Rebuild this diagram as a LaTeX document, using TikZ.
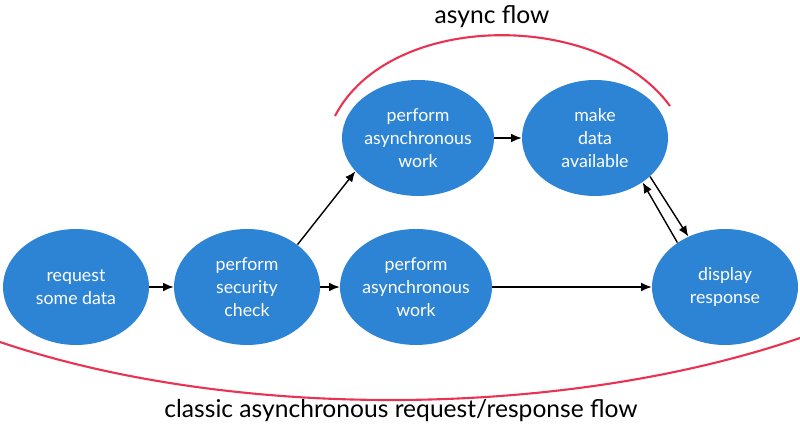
\documentclass[tikz,border=0pt]{standalone}
\usepackage{fontspec}
\setmainfont{Lato}
\usepackage{xcolor}
\usepackage{tikz}
\usetikzlibrary{arrows,arrows.meta}
\usetikzlibrary{shapes}
\definecolor{stepblue}{RGB}{45,132,213}
\definecolor{arcred}{RGB}{232,52,82}
\tikzstyle{st} = [ellipse, fill=stepblue, text=white, inner sep=0pt,
  minimum width=2.92cm, minimum height=2.32cm, align=center,
  font=\fontsize{10.1}{13.3}\selectfont]
\tikzstyle{fl} = [-{Latex[length=6pt,width=5pt]}, line width=0.8pt]
\tikzstyle{brace} = [arcred, line width=1.2pt]
\tikzstyle{lbl} = [font=\fontsize{14}{16}\selectfont]

\begin{document}
\begin{tikzpicture}
    [x=0.02cm, y=-0.02cm]
    \useasboundingbox (0,0) rectangle (800,428);
    \node[st] (req) at (76,287) {request\\some data};
    \node[st] (sec) at (247,287) {perform\\security\\check};
    \node[st] (work) at (416,287) {perform\\asynchronous\\work};
    \node[st] (awork) at (418,138) {perform\\asynchronous\\work};
    \node[st] (avail) at (595,138) {make\\data\\available};
    \node[st] (disp) at (725,287) {display\\response};
    % arrows
    \draw[fl] (req) -- (sec);
    \draw[fl] (sec) -- (work);
    \draw[fl] (sec.40) -- (awork.208);
    \draw[fl] (work) -- (disp);
    \draw[fl] (awork) -- (avail);
    \draw[fl] (avail.-35) -- (disp.126);
    \draw[fl] (disp.137) -- (avail.-43);
    % red arcs
    \draw[brace] (335,116) .. controls (390,10) and (600,10) .. (670,106);
    \draw[brace] (0,342) .. controls (230,420) and (560,420) .. (800,338);
    \node[lbl] (top) at (492,17) {async flow};
    \node[lbl] (bot) at (401,411) {classic asynchronous request/response flow};
  \end{tikzpicture}
\end{document}
